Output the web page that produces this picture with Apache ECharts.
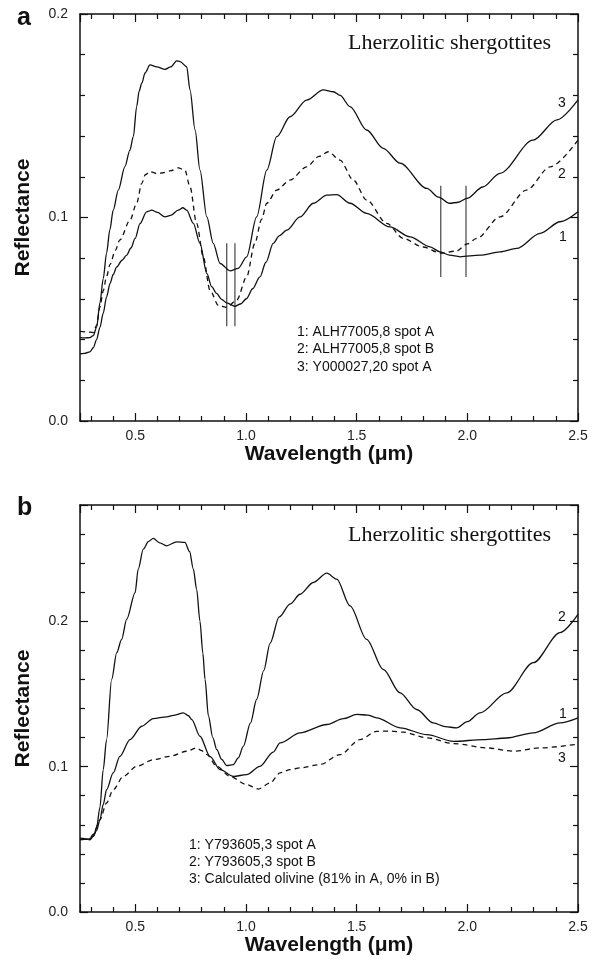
<!DOCTYPE html>
<html>
<head>
<meta charset="utf-8">
<script src="https://cdn.jsdelivr.net/npm/echarts@6/dist/echarts.min.js"></script>
<style>
  html, body { margin: 0; padding: 0; background: #fff; }
  #chart { width: 600px; height: 960px; }
</style>
</head>
<body>
<div id="chart"></div>
<script>
// panel a: [wavelength (um), reflectance]
const alhSpotA = [
  [0.25, 0.0330], [0.27, 0.0332], [0.295, 0.034], [0.31, 0.036], [0.325, 0.040], [0.34, 0.046],
  [0.355, 0.053], [0.37, 0.061], [0.386, 0.0676], [0.40, 0.072], [0.416, 0.0757], [0.44, 0.079],
  [0.461, 0.0815], [0.48, 0.085], [0.499, 0.0897], [0.521, 0.097], [0.551, 0.1028], [0.574, 0.1036],
  [0.60, 0.1025], [0.634, 0.1003], [0.66, 0.101], [0.694, 0.1036], [0.715, 0.1048], [0.732, 0.1036],
  [0.762, 0.0971], [0.792, 0.0873], [0.823, 0.0725], [0.845, 0.066], [0.867, 0.0627], [0.89, 0.0598],
  [0.913, 0.058], [0.95, 0.0564], [0.975, 0.0575], [1.003, 0.0602], [1.03, 0.065], [1.063, 0.0708],
  [1.09, 0.078], [1.123, 0.0873], [1.15, 0.091], [1.184, 0.0938], [1.244, 0.1003], [1.304, 0.107],
  [1.365, 0.111], [1.41, 0.1112], [1.47, 0.107], [1.545, 0.102], [1.65, 0.0954], [1.741, 0.0905],
  [1.831, 0.0856], [1.877, 0.0831], [1.92, 0.0815], [1.967, 0.0807], [2.057, 0.0815], [2.148, 0.0831],
  [2.223, 0.0848], [2.329, 0.0922], [2.419, 0.0979], [2.5, 0.1028]
];
const alhSpotB = [
  [0.25, 0.0440], [0.28, 0.0438], [0.31, 0.0435], [0.325, 0.047], [0.34, 0.056], [0.355, 0.064],
  [0.37, 0.071], [0.386, 0.077], [0.41, 0.084], [0.43, 0.089], [0.476, 0.0987], [0.506, 0.107],
  [0.529, 0.1168], [0.545, 0.121], [0.566, 0.1225], [0.60, 0.1215], [0.626, 0.122], [0.66, 0.123],
  [0.694, 0.1244], [0.724, 0.1233], [0.747, 0.1151], [0.777, 0.0971], [0.807, 0.0807], [0.837, 0.0643],
  [0.875, 0.0569], [0.913, 0.0558], [0.958, 0.0594], [1.003, 0.0708], [1.04, 0.0873], [1.07, 0.099],
  [1.094, 0.107], [1.139, 0.1135], [1.199, 0.1184], [1.274, 0.1249], [1.33, 0.130], [1.372, 0.1323],
  [1.425, 0.1282], [1.485, 0.1184], [1.545, 0.1086], [1.636, 0.0971], [1.711, 0.0897], [1.80, 0.0855],
  [1.88, 0.0825], [1.95, 0.0835], [2.0, 0.087], [2.042, 0.0897], [2.148, 0.1003], [2.268, 0.1135],
  [2.374, 0.1249], [2.5, 0.138]
];
const y000027 = [
  [0.25, 0.041], [0.27, 0.0408], [0.295, 0.041], [0.31, 0.042], [0.325, 0.046], [0.34, 0.058],
  [0.355, 0.070], [0.37, 0.0825], [0.385, 0.094], [0.40, 0.1036], [0.423, 0.1135], [0.453, 0.125],
  [0.475, 0.133], [0.491, 0.1397], [0.506, 0.1545], [0.517, 0.162], [0.529, 0.166], [0.544, 0.171],
  [0.566, 0.175], [0.597, 0.174], [0.634, 0.1728], [0.66, 0.174], [0.687, 0.177], [0.702, 0.1766],
  [0.732, 0.1741], [0.747, 0.1627], [0.77, 0.143], [0.792, 0.1233], [0.823, 0.1003], [0.852, 0.0873],
  [0.883, 0.0774], [0.928, 0.0738], [0.965, 0.075], [1.003, 0.0807], [1.048, 0.1003], [1.094, 0.1233],
  [1.139, 0.1397], [1.199, 0.1495], [1.274, 0.1577], [1.349, 0.1627], [1.395, 0.1618], [1.425, 0.160],
  [1.47, 0.1545], [1.545, 0.143], [1.62, 0.134], [1.696, 0.1267], [1.817, 0.1143], [1.87, 0.110],
  [1.92, 0.107], [1.96, 0.1075], [1.998, 0.1094], [2.07, 0.115], [2.147, 0.1217], [2.297, 0.138],
  [2.405, 0.148], [2.5, 0.1578]
];
// band centre markers in panel a: [wavelength, low, high]
const bandMarks = [[0.913, 0.0465, 0.0873], [0.95, 0.0465, 0.0873], [1.88, 0.0708, 0.1156], [1.994, 0.0708, 0.1156]];

// panel b
const y793605A = [
  [0.25, 0.0497], [0.27, 0.050], [0.288, 0.0501], [0.31, 0.052], [0.325, 0.056], [0.34, 0.0634],
  [0.355, 0.074], [0.37, 0.0841], [0.40, 0.0957], [0.43, 0.1071], [0.476, 0.1186], [0.529, 0.1278],
  [0.581, 0.1331], [0.641, 0.1343], [0.68, 0.1355], [0.717, 0.137], [0.74, 0.135], [0.755, 0.1324],
  [0.792, 0.1209], [0.837, 0.1071], [0.883, 0.0979], [0.943, 0.0933], [1.003, 0.0945], [1.063, 0.1002],
  [1.123, 0.110], [1.154, 0.1163], [1.244, 0.1232], [1.365, 0.129], [1.44, 0.133], [1.5, 0.1359],
  [1.55, 0.1355], [1.59, 0.1336], [1.696, 0.1267], [1.817, 0.122], [1.937, 0.1174], [2.072, 0.1186],
  [2.178, 0.1197], [2.298, 0.1232], [2.419, 0.1301], [2.5, 0.1336]
];
const y793605B = [
  [0.25, 0.0508], [0.27, 0.0505], [0.295, 0.0497], [0.31, 0.052], [0.325, 0.058], [0.34, 0.072],
  [0.355, 0.098], [0.37, 0.1186], [0.393, 0.160], [0.416, 0.1784], [0.438, 0.1876], [0.461, 0.2014],
  [0.499, 0.2197], [0.513, 0.2359], [0.536, 0.2497], [0.56, 0.255], [0.581, 0.257], [0.61, 0.254],
  [0.641, 0.2519], [0.687, 0.2547], [0.724, 0.2543], [0.745, 0.248], [0.762, 0.236], [0.777, 0.222],
  [0.792, 0.200], [0.805, 0.178], [0.815, 0.160], [0.83, 0.135], [0.85, 0.120], [0.868, 0.1117],
  [0.89, 0.105], [0.913, 0.1007], [0.943, 0.1014], [0.965, 0.106], [0.988, 0.114], [1.02, 0.13],
  [1.048, 0.1462], [1.08, 0.166], [1.109, 0.185], [1.15, 0.203], [1.2, 0.212], [1.244, 0.2186],
  [1.304, 0.2267], [1.365, 0.2331], [1.41, 0.229], [1.47, 0.2106], [1.545, 0.1876], [1.62, 0.1669],
  [1.696, 0.1508], [1.771, 0.1393], [1.846, 0.1301], [1.90, 0.1275], [1.952, 0.1267], [2.0, 0.131],
  [2.057, 0.137], [2.178, 0.1508], [2.298, 0.1715], [2.419, 0.1922], [2.5, 0.2048]
];
const olivineCalc = [
  [0.30, 0.0515], [0.31, 0.0535], [0.34, 0.0634], [0.37, 0.075], [0.40, 0.0841], [0.446, 0.0933],
  [0.506, 0.1002], [0.581, 0.1048], [0.657, 0.1071], [0.732, 0.1106], [0.777, 0.1129], [0.80, 0.111],
  [0.823, 0.1083], [0.868, 0.1002], [0.928, 0.0933], [1.003, 0.0876], [1.056, 0.0846], [1.109, 0.0887],
  [1.154, 0.0957], [1.2, 0.098], [1.244, 0.0991], [1.334, 0.1014], [1.425, 0.1083], [1.515, 0.1186],
  [1.59, 0.1243], [1.65, 0.1245], [1.711, 0.1237], [1.817, 0.1198], [1.937, 0.1159], [2.087, 0.1129],
  [2.208, 0.1106], [2.329, 0.1129], [2.5, 0.1155]
];

const legendA = ['1: ALH77005,8 spot A', '2: ALH77005,8 spot B', '3: Y000027,20 spot A'];
const legendB = ['1: Y793605,3 spot A', '2: Y793605,3 spot B', '3: Calculated olivine (81% in A, 0% in B)'];

const sans = "'Liberation Sans', Arial, Helvetica, sans-serif";
const ink = '#111';

function xAxisFor(gridIndex, position, nameGap) {
  const bottom = position === 'bottom';
  return {
    type: 'value', gridIndex: gridIndex, position: position,
    min: 0.25, max: 2.5, minInterval: 0.5, maxInterval: 0.5,
    name: bottom ? 'Wavelength (\u03bcm)' : '',
    nameLocation: 'middle', nameGap: nameGap,
    nameTextStyle: { fontFamily: sans, fontWeight: 'bold', fontSize: 21, color: ink },
    axisLine: { onZero: false, lineStyle: { color: ink, width: 1.5 } },
    axisTick: { inside: true, length: 8, lineStyle: { color: ink, width: 1.2 } },
    minorTick: { show: true, splitNumber: 5, length: 5, lineStyle: { color: ink, width: 1.2 } },
    axisLabel: {
      show: bottom, showMinLabel: false, margin: 8,
      fontFamily: sans, fontSize: 14, color: '#222',
      formatter: function (v) { return v.toFixed(1); }
    },
    splitLine: { show: false }
  };
}

function yAxisFor(gridIndex, position, max) {
  const left = position === 'left';
  return {
    type: 'value', gridIndex: gridIndex, position: position,
    min: 0, max: max, interval: 0.1,
    name: left ? 'Reflectance' : '',
    nameLocation: 'middle', nameGap: 46,
    nameTextStyle: { fontFamily: sans, fontWeight: 'bold', fontSize: 21, color: ink },
    axisLine: { onZero: false, lineStyle: { color: ink, width: 1.5 } },
    axisTick: { inside: true, length: 8, lineStyle: { color: ink, width: 1.2 } },
    minorTick: { show: true, splitNumber: 5, length: 5, lineStyle: { color: ink, width: 1.2 } },
    axisLabel: {
      show: left, showMaxLabel: max === 0.2, margin: 12,
      fontFamily: sans, fontSize: 14, color: '#222',
      formatter: function (v) { return v.toFixed(1); }
    },
    splitLine: { show: false }
  };
}

function curve(data, axis, dashed) {
  return {
    type: 'line', data: data, xAxisIndex: axis, yAxisIndex: axis,
    showSymbol: false, smooth: 0.3, smoothMonotone: 'x',
    lineStyle: { color: ink, width: 1.3, type: dashed ? [5, 4] : 'solid' },
    z: 3
  };
}

function text(str, x, y, font, align) {
  return {
    type: 'text', x: x, y: y,
    style: {
      text: str, font: font, fill: ink,
      align: align || 'left', verticalAlign: 'middle',
      textAlign: align || 'left', textVerticalAlign: 'middle'
    }
  };
}

const markSeries = bandMarks.map(function (m) {
  return {
    type: 'line', data: [[m[0], m[1]], [m[0], m[2]]], xAxisIndex: 0, yAxisIndex: 0,
    showSymbol: false, lineStyle: { color: '#444', width: 1.2 }, z: 2
  };
});

const labelFont = '14px ' + sans;
const serif = "22px 'Liberation Serif', 'Times New Roman', serif";

const graphics = [
  text('a', 17, 18, 'bold 25px ' + sans),
  text('b', 17, 508, 'bold 25px ' + sans),
  text('Lherzolitic shergottites', 348, 43, serif),
  text('Lherzolitic shergottites', 348, 535, serif),
  text('3', 558, 103, labelFont),
  text('2', 558, 174, labelFont),
  text('1', 559, 237, labelFont),
  text('2', 558, 617, labelFont),
  text('1', 559, 714, labelFont),
  text('3', 558, 758, labelFont)
];
legendA.forEach(function (s, i) { graphics.push(text(s, 297, 332 + i * 17.5, labelFont)); });
legendB.forEach(function (s, i) { graphics.push(text(s, 189, 845 + i * 17, labelFont)); });

const chart = echarts.init(document.getElementById('chart'));
const option = {
  animation: false,
  backgroundColor: '#fff',
  grid: [
    { left: 80, top: 14, width: 498, height: 407 },
    { left: 80, top: 505, width: 498, height: 407 }
  ],
  xAxis: [xAxisFor(0, 'bottom', 22), xAxisFor(0, 'top', 0), xAxisFor(1, 'bottom', 18), xAxisFor(1, 'top', 0)],
  yAxis: [yAxisFor(0, 'left', 0.2), yAxisFor(0, 'right', 0.2), yAxisFor(1, 'left', 0.28), yAxisFor(1, 'right', 0.28)],
  series: [
    curve(alhSpotA, 0, false),
    curve(alhSpotB, 0, true),
    curve(y000027, 0, false),
    curve(y793605A, 2, false),
    curve(y793605B, 2, false),
    curve(olivineCalc, 2, true)
  ].concat(markSeries),
  graphic: graphics
};
chart.setOption(option);
</script>
</body>
</html>
